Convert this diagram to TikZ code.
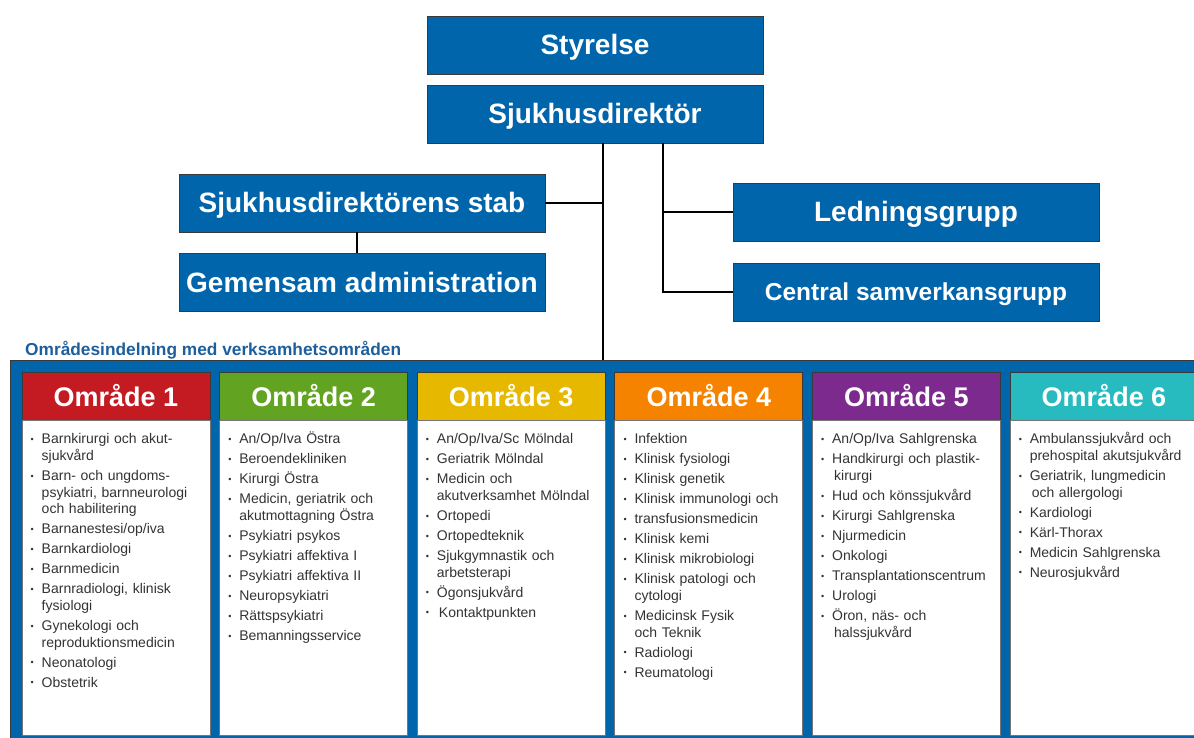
\documentclass[tikz,border=0pt]{standalone}
\usepackage{fontspec}
\setmainfont{Liberation Sans}
\setsansfont{Liberation Sans}
\usepackage{tikz}
\usetikzlibrary{positioning,calc}
\definecolor{sgblue}{HTML}{0065AB}
\definecolor{rubrik}{HTML}{1D5E9C}
\definecolor{omr1}{HTML}{C41A21}
\definecolor{omr2}{HTML}{62A421}
\definecolor{omr3}{HTML}{E6B800}
\definecolor{omr4}{HTML}{F58300}
\definecolor{omr5}{HTML}{7D2A8E}
\definecolor{omr6}{HTML}{27BBBF}
\definecolor{txt}{HTML}{333333}
\definecolor{kant}{HTML}{3A3A3A}
% en punkt i listan, med hängande indrag
\newcommand{\itm}[1]{\par\hangindent=16pt\hangafter=1\noindent
  \hspace*{5pt}\makebox[11pt][l]{\raisebox{1.2pt}{\small\textbullet}}#1}
\tikzset{
  ledbox/.style={fill=sgblue, draw=kant, line width=0.9pt, text=white,
                 inner sep=0pt, minimum height=58pt,
                 text height=20pt, text depth=0pt,
                 font=\fontsize{28}{30}\selectfont\bfseries},
  conn/.style={draw=black, line width=2.6pt},
  omrhead/.style={draw=kant, line width=0.9pt, text=white, inner sep=0pt,
                  minimum width=188pt, minimum height=48pt,
                  font=\fontsize{27}{29}\selectfont\bfseries},
  omrbody/.style={fill=white, draw=kant!70, line width=0.9pt, inner sep=0pt,
                  minimum width=188pt, minimum height=315pt},
  omrlist/.style={anchor=north west, text width=180pt, inner xsep=4pt,
                  inner ysep=3pt, align=left, text=txt,
                  font=\fontsize{14}{16.7}\selectfont\setlength\parskip{3.3pt}},
}
\begin{document}
\begin{tikzpicture}[x=1pt, y=-1pt]
  \useasboundingbox (0,0) rectangle (1194,738);
  \clip (0,0) rectangle (1194,738);

  % ledning
  \node[ledbox, minimum width=336pt] (sty) at (595,45) {Styrelse};
  \node[ledbox, minimum width=336pt] (dir) at (595,114) {Sjukhusdirektör};
  \node[ledbox, minimum width=366pt] (stab) at (362,203) {Sjukhusdirektörens stab};
  \node[ledbox, minimum width=366pt] (gem) at (362,282) {Gemensam administration};
  \node[ledbox, minimum width=366pt] (led) at (916,212) {Ledningsgrupp};
  \node[ledbox, minimum width=366pt, text height=17.5pt,
        font=\fontsize{24.5}{27}\selectfont\bfseries]
       (sam) at (916,292) {Central samverkansgrupp};

  % områdena
  \node[anchor=west, text=rubrik, inner sep=0pt,
        font=\fontsize{17.3}{19}\selectfont\bfseries] (rub) at (25,350)
       {Områdesindelning med verksamhetsområden};
  \node[fill=sgblue, draw=kant, line width=0.9pt, inner sep=0pt, anchor=north west,
        minimum width=1200pt, minimum height=400pt] (ram) at (10,360) {};

  \foreach \i in {1,...,6} {
    \node[omrhead, fill=omr\i] (h\i) at ({116+197.6*(\i-1)},396) {Område \i};
    \node[omrbody, below=0pt of h\i] (b\i) {};
  }

  \node[omrlist] (l1) at (b1.north west) {
    \itm{Barnkirurgi och akut-\newline sjukvård}
    \itm{Barn- och ungdoms-\newline psykiatri, barnneurologi\newline och habilitering}
    \itm{Barnanestesi/op/iva}
    \itm{Barnkardiologi}
    \itm{Barnmedicin}
    \itm{Barnradiologi, klinisk\newline fysiologi}
    \itm{Gynekologi och\newline reproduktionsmedicin}
    \itm{Neonatologi}
    \itm{Obstetrik}\par};
  \node[omrlist] (l2) at (b2.north west) {
    \itm{An/Op/Iva Östra}
    \itm{Beroendekliniken}
    \itm{Kirurgi Östra}
    \itm{Medicin, geriatrik och\newline akutmottagning Östra}
    \itm{Psykiatri psykos}
    \itm{Psykiatri affektiva I}
    \itm{Psykiatri affektiva II}
    \itm{Neuropsykiatri}
    \itm{Rättspsykiatri}
    \itm{Bemanningsservice}\par};
  \node[omrlist] (l3) at (b3.north west) {
    \itm{An/Op/Iva/Sc Mölndal}
    \itm{Geriatrik Mölndal}
    \itm{Medicin och\newline akutverksamhet Mölndal}
    \itm{Ortopedi}
    \itm{Ortopedteknik}
    \itm{Sjukgymnastik och\newline arbetsterapi}
    \itm{Ögonsjukvård}
    \itm{\hspace*{2pt}Kontaktpunkten}\par};
  \node[omrlist] (l4) at (b4.north west) {
    \itm{Infektion}
    \itm{Klinisk fysiologi}
    \itm{Klinisk genetik}
    \itm{Klinisk immunologi och}
    \itm{transfusionsmedicin}
    \itm{Klinisk kemi}
    \itm{Klinisk mikrobiologi}
    \itm{Klinisk patologi och\newline cytologi}
    \itm{Medicinsk Fysik\newline och Teknik}
    \itm{Radiologi}
    \itm{Reumatologi}\par};
  \node[omrlist] (l5) at (b5.north west) {
    \itm{An/Op/Iva Sahlgrenska}
    \itm{Handkirurgi och plastik-\newline\hspace*{2pt}kirurgi}
    \itm{Hud och könssjukvård}
    \itm{Kirurgi Sahlgrenska}
    \itm{Njurmedicin}
    \itm{Onkologi}
    \itm{Transplantationscentrum}
    \itm{Urologi}
    \itm{Öron, näs- och\newline\hspace*{2pt}halssjukvård}\par};
  \node[omrlist] (l6) at (b6.north west) {
    \itm{Ambulanssjukvård och\newline prehospital akutsjukvård}
    \itm{Geriatrik, lungmedicin\newline\hspace*{2pt}och allergologi}
    \itm{Kardiologi}
    \itm{Kärl-Thorax}
    \itm{Medicin Sahlgrenska}
    \itm{Neurosjukvård}\par};

  % linjer
  \coordinate (stam) at ([xshift=8pt]dir.south);
  \coordinate (gren) at ([xshift=68pt]dir.south);
  \draw[conn] (stam) -- (stam |- ram.north);
  \draw[conn] (stab.east) -- (stab.east -| stam);
  \draw[conn] ([xshift=-5pt]stab.south) -- ([xshift=-5pt]gem.north);
  \draw[conn] (gren) -- (gren |- sam.west) -- (sam.west);
  \draw[conn] (gren |- led.west) -- (led.west);
\end{tikzpicture}
\end{document}
